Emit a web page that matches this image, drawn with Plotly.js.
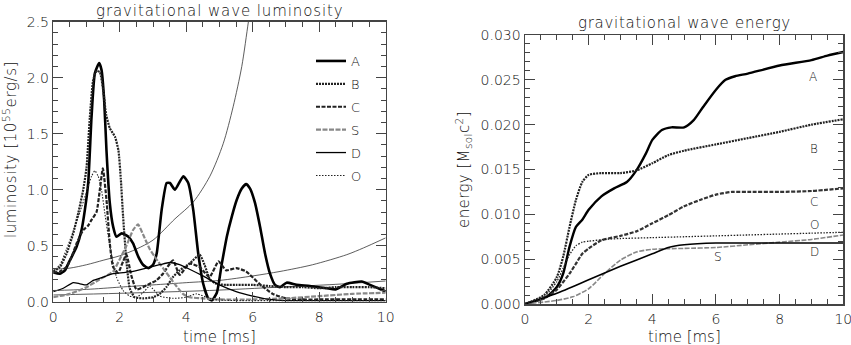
<!DOCTYPE html>
<html>
<head>
<meta charset="utf-8">
<script src="https://cdn.plot.ly/plotly-3.0.1.min.js"></script>
<style>
  html, body { margin: 0; padding: 0; background: #fff; }
  #chart { width: 851px; height: 345px; }
</style>
</head>
<body>
<div id="chart"></div>
<script>
// luminosity [10^55 erg/s] vs time [ms]
const tA = [0, 0.2, 0.35, 0.5, 0.7, 0.85, 0.95, 1.05, 1.15, 1.25, 1.38, 1.45, 1.53, 1.6, 1.7, 1.8, 1.9, 2.06, 2.26, 2.4, 2.56, 2.7, 2.86, 3.0, 3.11, 3.26, 3.41, 3.51, 3.66, 3.91, 4.06, 4.21, 4.36, 4.51, 4.66, 4.77, 4.92, 5.07, 5.22, 5.37, 5.52, 5.67, 5.8, 5.92, 6.07, 6.22, 6.37, 6.52, 6.67, 6.82, 7.02, 7.32, 7.72, 8.22, 8.5, 8.83, 9.28, 9.53, 9.93, 10];
const lumA = [0.26, 0.25, 0.28, 0.37, 0.49, 0.64, 0.82, 1.06, 1.65, 2.04, 2.13, 2.07, 1.8, 1.35, 0.88, 0.67, 0.58, 0.61, 0.58, 0.52, 0.4, 0.33, 0.3, 0.33, 0.43, 0.82, 1.06, 1.06, 1.0, 1.12, 1.06, 0.82, 0.43, 0.16, 0.03, 0.01, 0.08, 0.34, 0.58, 0.76, 0.91, 1.01, 1.05, 1.01, 0.88, 0.67, 0.43, 0.25, 0.15, 0.13, 0.17, 0.15, 0.14, 0.12, 0.11, 0.16, 0.18, 0.15, 0.1, 0.09];

const tB = [0, 0.2, 0.4, 0.6, 0.75, 0.9, 1.0, 1.1, 1.2, 1.3, 1.4, 1.5, 1.59, 1.7, 1.86, 1.96, 2.03, 2.1, 2.2, 2.3, 2.45, 2.7, 3.0, 3.2, 3.4, 3.6, 3.8, 4.1, 4.4, 4.55, 4.71, 4.9, 5.2, 5.5, 6.0, 6.5, 7.0, 7.5, 8.0, 8.5, 9.0, 9.5, 10];
const lumB = [0.27, 0.31, 0.43, 0.61, 0.79, 1.0, 1.2, 1.65, 1.98, 2.06, 2.05, 1.89, 1.67, 1.55, 1.47, 1.35, 1.1, 0.76, 0.36, 0.12, 0.04, 0.03, 0.04, 0.07, 0.13, 0.22, 0.28, 0.34, 0.42, 0.33, 0.2, 0.16, 0.15, 0.15, 0.15, 0.14, 0.13, 0.13, 0.12, 0.13, 0.13, 0.13, 0.12];

const tC = [0, 0.2, 0.4, 0.55, 0.7, 0.9, 1.05, 1.15, 1.3, 1.4, 1.49, 1.6, 1.7, 1.8, 1.95, 2.1, 2.2, 2.35, 2.5, 2.7, 2.9, 3.1, 3.3, 3.6, 3.8, 4.1, 4.4, 4.7, 4.97, 5.2, 5.5, 5.8, 6.2, 6.6, 7.0, 7.5, 8.0, 9.0, 10];
const lumC = [0.26, 0.27, 0.31, 0.4, 0.52, 0.64, 0.68, 0.73, 0.8, 1.0, 1.19, 0.91, 0.52, 0.31, 0.26, 0.36, 0.42, 0.23, 0.11, 0.13, 0.16, 0.19, 0.25, 0.37, 0.24, 0.34, 0.31, 0.22, 0.36, 0.28, 0.3, 0.27, 0.16, 0.07, 0.03, 0.02, 0.02, 0.02, 0.02];

const tS = [0, 0.5, 1.0, 1.4, 1.8, 2.0, 2.2, 2.4, 2.55, 2.7, 2.9, 3.1, 3.3, 3.5, 3.7, 3.9, 4.1, 4.5, 5.0, 6.0, 7.0, 8.0, 9.0, 10];
const lumS = [0.04, 0.07, 0.13, 0.2, 0.27, 0.38, 0.5, 0.64, 0.69, 0.6, 0.47, 0.38, 0.3, 0.22, 0.14, 0.07, 0.04, 0.03, 0.02, 0.02, 0.03, 0.05, 0.07, 0.08];

const tD = [0, 0.3, 0.6, 0.8, 1.0, 1.2, 1.5, 1.8, 2.1, 2.4, 2.8, 3.2, 3.5, 3.8, 4.1, 4.5, 5.0, 5.5, 6.0, 6.5, 7.0, 8.0, 9.0, 10];
const lumD = [0.09, 0.12, 0.17, 0.16, 0.15, 0.19, 0.22, 0.25, 0.26, 0.27, 0.3, 0.33, 0.35, 0.33, 0.29, 0.23, 0.15, 0.09, 0.05, 0.02, 0.01, 0.01, 0.01, 0.01];

const tO = [0, 0.2, 0.4, 0.6, 0.8, 1.0, 1.15, 1.25, 1.35, 1.45, 1.55, 1.7, 1.9, 2.1, 2.3, 2.5, 2.7, 2.9, 3.2, 3.6, 4.0, 4.3, 4.8, 5.5, 7.0, 10];
const lumO = [0.27, 0.33, 0.47, 0.63, 0.8, 0.98, 1.12, 1.17, 1.12, 1.0, 0.79, 0.5, 0.22, 0.1, 0.05, 0.04, 0.08, 0.14, 0.05, 0.03, 0.04, 0.07, 0.02, 0.01, 0.01, 0.01];

// unlabelled thin reference curves in the luminosity panel
const tRef1 = [0, 0.5, 1, 1.5, 2, 2.5, 3, 3.66, 4.21, 4.71, 5.11, 5.41, 5.67, 5.87, 6.0];
const lumRef1 = [0.29, 0.3, 0.33, 0.37, 0.41, 0.47, 0.55, 0.74, 0.89, 1.12, 1.41, 1.74, 2.1, 2.5, 2.75];
const tRef2 = [0, 1, 2, 3, 4, 5, 6, 6.82, 7.8, 8.83, 9.33, 10];
const lumRef2 = [0.1, 0.11, 0.13, 0.15, 0.17, 0.19, 0.23, 0.27, 0.33, 0.42, 0.48, 0.57];
const tRef3 = [0, 2, 4.7, 6.8, 8.5, 10];
const lumRef3 = [0.06, 0.075, 0.1, 0.13, 0.155, 0.185];

// energy [M_sol c^2] vs time [ms]
const tEA = [0, 0.68, 1.0, 1.2, 1.4, 1.6, 1.8, 2.0, 2.4, 2.8, 3.2, 3.5, 3.8, 4.0, 4.3, 4.6, 5.0, 5.3, 5.6, 6.0, 6.3, 6.6, 7.0, 8.0, 9.0, 9.5, 10];
const enA = [0, 0.0008, 0.0019, 0.0034, 0.0064, 0.0086, 0.0094, 0.0105, 0.012, 0.0129, 0.0136, 0.0149, 0.0168, 0.0183, 0.0194, 0.0197, 0.0197, 0.0205, 0.022, 0.0239, 0.025, 0.0254, 0.0257, 0.0266, 0.0272, 0.0277, 0.0281];
const tEB = [0, 0.6, 1.0, 1.2, 1.4, 1.6, 1.8, 2.0, 2.4, 3.0, 3.5, 4.0, 4.5, 5.0, 6.0, 7.0, 8.0, 9.0, 10];
const enB = [0, 0.001, 0.003, 0.0053, 0.0086, 0.0116, 0.0136, 0.0144, 0.0146, 0.0146, 0.0149, 0.0157, 0.0166, 0.0171, 0.0178, 0.0185, 0.0192, 0.02, 0.0206];
const tEC = [0, 0.6, 1.0, 1.4, 1.6, 1.8, 2.0, 2.4, 3.0, 3.5, 4.0, 4.5, 5.0, 5.5, 6.0, 6.5, 7.0, 8.0, 9.0, 10];
const enC = [0, 0.0006, 0.0016, 0.0034, 0.0045, 0.0056, 0.0062, 0.0071, 0.0076, 0.0081, 0.009, 0.0099, 0.0109, 0.0116, 0.0122, 0.0125, 0.0125, 0.0125, 0.0126, 0.0129];
const tEO = [0, 0.6, 1.0, 1.2, 1.4, 1.6, 1.8, 2.0, 2.5, 3.0, 4.0, 5.0, 6.0, 7.0, 8.0, 9.0, 10];
const enO = [0, 0.0008, 0.0025, 0.004, 0.0055, 0.0065, 0.0069, 0.007, 0.0072, 0.0073, 0.0074, 0.0075, 0.0076, 0.0077, 0.0078, 0.0079, 0.008];
const tES = [0, 1.0, 1.5, 2.0, 2.5, 3.0, 3.5, 4.0, 5.0, 6.0, 7.0, 8.0, 9.0, 10];
const enS = [0, 0.0004, 0.0008, 0.0017, 0.0034, 0.0049, 0.0058, 0.0061, 0.0062, 0.0063, 0.0066, 0.0069, 0.0072, 0.0077];
const tED = [0, 1, 2, 3, 4, 4.5, 5, 6, 7, 8, 9, 10];
const enD = [0, 0.0012, 0.0027, 0.0042, 0.0056, 0.0063, 0.0066, 0.0068, 0.0068, 0.0068, 0.0068, 0.0068];

const modelNames = ['A', 'B', 'C', 'S', 'D', 'O'];

const FONT = 'DejaVu Sans, sans-serif';
const INK = '#111';

const lumStyle = {
  A: { color: '#000', width: 2.6, dash: 'solid' },
  B: { color: '#222', width: 2.2, dash: '2px,1px' },
  C: { color: '#222', width: 2.2, dash: '4px,1.5px' },
  S: { color: '#888', width: 2.2, dash: '5px,1.5px' },
  D: { color: '#000', width: 1.3, dash: 'solid' },
  O: { color: '#222', width: 1.1, dash: '1.5px,1.5px' }
};
const enStyle = {
  A: { color: '#000', width: 2.4, dash: 'solid' },
  B: { color: '#222', width: 2.2, dash: '2px,1px' },
  C: { color: '#333', width: 2.2, dash: '4px,1.5px' },
  S: { color: '#888', width: 1.6, dash: '5px,1.5px' },
  D: { color: '#000', width: 1.6, dash: 'solid' },
  O: { color: '#222', width: 1.3, dash: '1.5px,1.5px' }
};

const lumData = {
  A: [tA, lumA], B: [tB, lumB], C: [tC, lumC],
  S: [tS, lumS], D: [tD, lumD], O: [tO, lumO]
};
const enData = {
  A: [tEA, enA], B: [tEB, enB], C: [tEC, enC],
  S: [tES, enS], D: [tED, enD], O: [tEO, enO]
};

const traces = [];

[[tRef1, lumRef1], [tRef2, lumRef2], [tRef3, lumRef3]].forEach(([x, y]) => {
  traces.push({
    x: x, y: y, type: 'scatter', mode: 'lines',
    line: { color: '#333', width: 0.8, shape: 'spline', smoothing: 0.8 },
    showlegend: false, hoverinfo: 'skip', xaxis: 'x', yaxis: 'y'
  });
});

modelNames.forEach(name => {
  traces.push({
    x: lumData[name][0], y: lumData[name][1],
    type: 'scatter', mode: 'lines', name: name, legendgroup: name,
    line: { ...lumStyle[name], shape: 'spline', smoothing: 0.5 },
    xaxis: 'x', yaxis: 'y'
  });
});

modelNames.forEach(name => {
  traces.push({
    x: enData[name][0], y: enData[name][1],
    type: 'scatter', mode: 'lines', name: name, showlegend: false,
    line: { ...enStyle[name], shape: 'spline', smoothing: 0.6 },
    xaxis: 'x2', yaxis: 'y2'
  });
});

const axisBase = {
  showline: true, linecolor: '#444', linewidth: 1.5, mirror: 'allticks',
  ticks: 'inside', ticklen: 10, tickwidth: 1, tickcolor: '#444',
  showgrid: false, zeroline: false, ticklabeloverflow: 'allow',
  tickfont: { family: FONT, size: 14, color: INK, weight: 200 }
};

// label positions for the energy panel
const enLabels = [
  ['A', 9.05, 0.0253], ['B', 9.08, 0.0173], ['C', 9.08, 0.0114],
  ['O', 9.08, 0.0088], ['D', 9.08, 0.0058], ['S', 6.06, 0.0052]
];

const textFont = { family: FONT, size: 15, color: INK, weight: 200 };
const spaced = (s, px) => `<span style="letter-spacing:${px}px">${s}</span>`;

const annotations = [
  { text: spaced('gravitational wave luminosity', 0.9), x: 219.5 / 851, y: 1 - 11 / 345 },
  { text: spaced('gravitational wave energy', 0.7), x: 684 / 851, y: 1 - 23 / 345 },
  { text: 'time [ms]', x: 219.5 / 851, y: 1 - 337 / 345 },
  { text: 'time [ms]', x: 684 / 851, y: 1 - 337 / 345 },
  { text: spaced('luminosity [10<sup>55</sup>erg/s]', 0.6), x: 10 / 851, y: 1 - 150 / 345, textangle: -90 },
  { text: spaced('energy [M<sub>sol</sub>c<sup>2</sup>]', 0.4), x: 463 / 851, y: 1 - 170 / 345, textangle: -90 }
].map(a => ({
  ...a, xref: 'paper', yref: 'paper', showarrow: false,
  xanchor: 'center', yanchor: 'middle', font: textFont
}));

enLabels.forEach(([name, x, y]) => {
  annotations.push({
    text: name, x: x, y: y, xref: 'x2', yref: 'y2', showarrow: false,
    xanchor: 'center', yanchor: 'middle',
    font: { family: FONT, size: 12, color: INK, weight: 200 }
  });
});

const layout = {
  width: 851, height: 345,
  margin: { l: 0, r: 0, t: 0, b: 0 },
  paper_bgcolor: '#fff', plot_bgcolor: '#fff',
  xaxis: {
    ...axisBase, domain: [53.3 / 851, 385.7 / 851], range: [0, 10], dtick: 2,
    ticklabelstandoff: 2,
    minor: { ticks: 'inside', ticklen: 5, dtick: 0.5, tickcolor: '#444' },
    anchor: 'y'
  },
  yaxis: {
    ...axisBase, domain: [1 - 301.7 / 345, 1 - 21.7 / 345], range: [0, 2.5], dtick: 0.5,
    tickformat: '.1f',
    minor: { ticks: 'inside', ticklen: 5, dtick: 0.1, tickcolor: '#444' },
    anchor: 'x'
  },
  xaxis2: {
    ...axisBase, domain: [525 / 851, 843.3 / 851], range: [0, 10], dtick: 2,
    ticklabelstandoff: 2,
    minor: { ticks: 'inside', ticklen: 5, dtick: 0.5, tickcolor: '#444' },
    anchor: 'y2'
  },
  yaxis2: {
    ...axisBase, domain: [1 - 304 / 345, 1 - 35 / 345], range: [0, 0.030], dtick: 0.005,
    tickformat: '.3f',
    minor: { ticks: 'inside', ticklen: 5, dtick: 0.001, tickcolor: '#444' },
    anchor: 'x2'
  },
  showlegend: true,
  legend: {
    x: 311 / 851, y: 1 - 46 / 345, xanchor: 'left', yanchor: 'top',
    bgcolor: 'rgba(0,0,0,0)', borderwidth: 0,
    font: { family: FONT, size: 13, color: INK, weight: 200 },
    tracegroupgap: 3, traceorder: 'grouped'
  },
  annotations: annotations
};

Plotly.newPlot('chart', traces, layout, { displayModeBar: false, staticPlot: true });
</script>
</body>
</html>
